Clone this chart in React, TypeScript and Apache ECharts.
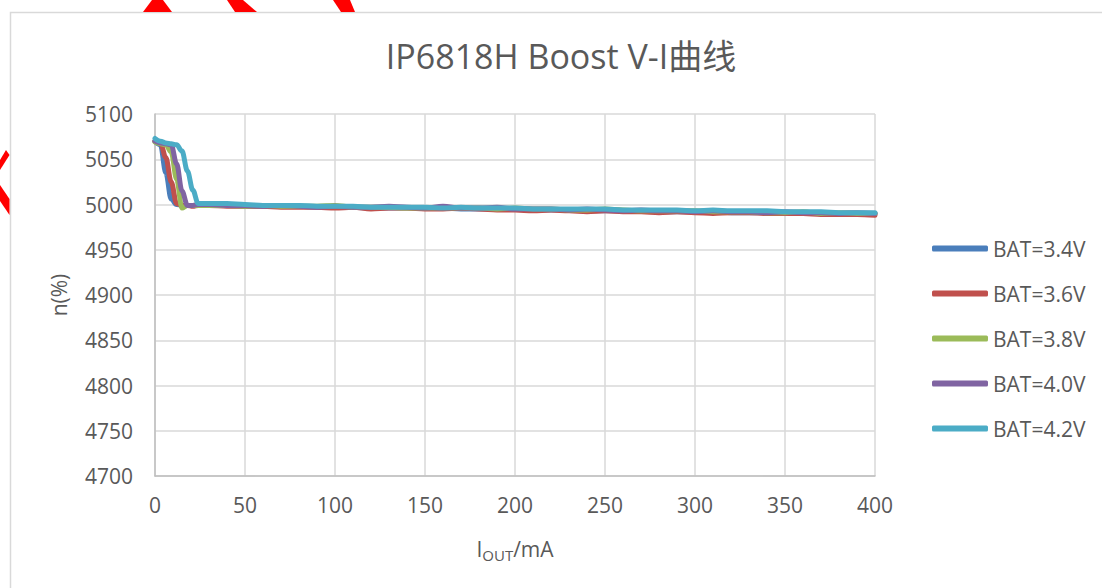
import React, { useEffect, useRef } from "react";
import * as echarts from "echarts";

const FONT = "'Open Sans', 'Noto Sans CJK SC', sans-serif";

const TITLE = "IP6818H Boost V-I曲线";
const SERIES_NAMES = ["BAT=3.4V", "BAT=3.6V", "BAT=3.8V", "BAT=4.0V", "BAT=4.2V"];
const COLORS = ["#4a7ebb", "#c0504d", "#9bbb59", "#8064a2", "#4bacc6"];

const X_MA = [
  0, 3, 6, 9, 12, 15, 18, 21, 24,
  30, 40, 50, 60, 70, 80, 90, 100, 110, 120,
  130, 140, 150, 160, 170, 180, 190, 200, 210, 220,
  230, 240, 250, 260, 270, 280, 290, 300, 310, 320,
  330, 340, 350, 360, 370, 380, 390, 400,
];

const BAT_34 = [
  5070, 5066, 5035, 5006, 5000, 4999, 4999, 4999, 4999,
  4999, 4999, 4998, 4998, 4998, 4998, 4997, 4997, 4997, 4996,
  4996, 4996, 4996, 4996, 4995, 4995, 4995, 4995, 4994, 4994,
  4994, 4993, 4993, 4993, 4993, 4992, 4992, 4992, 4992, 4991,
  4991, 4991, 4991, 4990, 4990, 4990, 4990, 4990,
];
const BAT_36 = [
  5070, 5068, 5052, 5025, 5001, 4999, 4999, 4998, 4999,
  4999, 4998, 4998, 4998, 4997, 4997, 4997, 4996, 4997, 4995,
  4996, 4996, 4995, 4995, 4996, 4995, 4994, 4994, 4993, 4994,
  4993, 4992, 4993, 4992, 4992, 4991, 4992, 4991, 4990, 4991,
  4991, 4990, 4990, 4990, 4989, 4989, 4989, 4988,
];
const BAT_38 = [
  5069, 5067, 5066, 5058, 5028, 4996, 4999, 4999, 4999,
  4999, 4999, 4998, 4999, 4998, 4998, 4998, 4999, 4997, 4997,
  4997, 4996, 4996, 4997, 4996, 4996, 4995, 4996, 4995, 4995,
  4994, 4994, 4995, 4994, 4993, 4993, 4993, 4993, 4992, 4992,
  4992, 4991, 4991, 4992, 4990, 4991, 4990, 4990,
];
const BAT_40 = [
  5070, 5068, 5067, 5066, 5045, 5015, 4999, 4999, 5000,
  5000, 4999, 4999, 4998, 4999, 4998, 4997, 4998, 4997, 4997,
  4998, 4997, 4996, 4998, 4996, 4996, 4997, 4995, 4995, 4995,
  4994, 4995, 4994, 4993, 4994, 4993, 4993, 4992, 4993, 4992,
  4992, 4991, 4992, 4991, 4991, 4990, 4991, 4990,
];
const BAT_42 = [
  5073, 5070, 5068, 5067, 5066, 5059, 5037, 5016, 5001,
  5001, 5001, 5000, 4999, 4999, 4999, 4998, 4998, 4998, 4997,
  4997, 4997, 4997, 4996, 4997, 4996, 4996, 4996, 4995, 4995,
  4995, 4995, 4995, 4994, 4994, 4994, 4994, 4993, 4994, 4993,
  4993, 4993, 4992, 4992, 4992, 4991, 4991, 4991,
];
const ALL_SERIES = [BAT_34, BAT_36, BAT_38, BAT_40, BAT_42];

const Y_MIN = 4700;
const Y_MAX = 5100;
const Y_STEP = 50;
const X_MIN = 0;
const X_MAX = 400;
const X_STEP = 50;

export default function App() {
  const ref = useRef<HTMLDivElement>(null);

  useEffect(() => {
    if (!ref.current) return;
    const chart = echarts.init(ref.current, null, { renderer: "svg" });
    const axisLabel = {
      color: "#595959",
      fontSize: 21,
      fontFamily: FONT,
      formatter: (v: number) => String(v),
    };
    const option = {
      animation: false,
      backgroundColor: "#ffffff",
      textStyle: { fontFamily: FONT },
      grid: { left: 155, right: 227, top: 114, bottom: 112, containLabel: false },
      xAxis: {
        type: "value",
        min: X_MIN,
        max: X_MAX,
        interval: X_STEP,
        axisLine: { show: true, lineStyle: { color: "#bfbfbf", width: 1.5 } },
        axisTick: { show: false },
        axisLabel: { ...axisLabel, margin: 18 },
        splitLine: { show: true, lineStyle: { color: "#d9d9d9", width: 1.5 } },
        name: "{a|I}{s|OUT}{a|/mA}",
        nameLocation: "middle",
        nameGap: 60,
        nameTextStyle: {
          rich: {
            a: { fontSize: 21, color: "#595959", fontFamily: FONT, lineHeight: 26 },
            s: { fontSize: 15, color: "#595959", fontFamily: FONT, lineHeight: 26, padding: [12, 0, 0, 0] },
          },
        },
      },
      yAxis: {
        type: "value",
        min: Y_MIN,
        max: Y_MAX,
        interval: Y_STEP,
        axisLine: { show: true, lineStyle: { color: "#bfbfbf", width: 1.5 } },
        axisTick: { show: false },
        axisLabel: { ...axisLabel, margin: 22 },
        splitLine: { show: true, lineStyle: { color: "#d9d9d9", width: 1.5 } },
        name: "n(%)",
        nameLocation: "middle",
        nameGap: 86,
        nameTextStyle: { color: "#595959", fontSize: 21, fontFamily: FONT },
      },
      legend: {
        orient: "vertical",
        left: 932,
        top: 238,
        padding: 0,
        icon: "roundRect",
        itemWidth: 56,
        itemHeight: 6,
        itemGap: 24,
        textStyle: { color: "#595959", fontSize: 21, fontFamily: FONT, lineHeight: 21 },
        data: SERIES_NAMES,
      },
      series: ALL_SERIES.map((vals, i) => ({
        name: SERIES_NAMES[i],
        type: "line",
        data: X_MA.map((x, j) => [x, vals[j]]),
        showSymbol: false,
        smooth: 0.35,
        smoothMonotone: "x",
        color: COLORS[i],
        lineStyle: { width: 5, color: COLORS[i], cap: "round", join: "round" },
        z: 2 + i,
      })),
      graphic: [
        {
          type: "rect",
          shape: { x: 10.5, y: 12.5, width: 1300, height: 800 },
          style: { fill: "none", stroke: "#d9d9d9", lineWidth: 1.5 },
          silent: true,
        },
        { type: "polygon", shape: { points: [[143, 12], [152, 0], [163, 0], [172, 12]] }, style: { fill: "#ff0000" } },
        { type: "polygon", shape: { points: [[227, 0], [243, 0], [257, 12], [235, 12]] }, style: { fill: "#ff0000" } },
        { type: "polygon", shape: { points: [[333, 0], [350, 0], [355, 12], [341, 12]] }, style: { fill: "#ff0000" } },
        { type: "polygon", shape: { points: [[0, 160], [6, 150], [9.5, 155], [0, 170]] }, style: { fill: "#ff0000" } },
        { type: "polygon", shape: { points: [[0, 185], [9.5, 199], [9.5, 215], [0, 201]] }, style: { fill: "#ff0000" } },
        {
          type: "text",
          x: 561,
          y: 39,
          style: {
            text: TITLE,
            fill: "#595959",
            font: `34px ${FONT}`,
            textAlign: "center",
            textVerticalAlign: "top",
          },
        },
      ],
    };
    chart.setOption(option as any);
    return () => chart.dispose();
  }, []);

  return (
    <div
      ref={ref}
      style={{ position: "fixed", left: 0, top: 0, width: 1102, height: 588 }}
    />
  );
}
